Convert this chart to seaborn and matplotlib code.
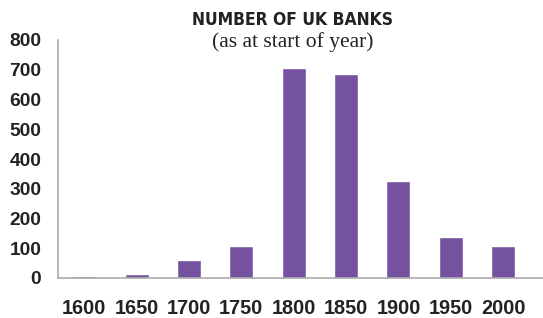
import pandas as pd
import matplotlib
matplotlib.use('Agg')
import matplotlib.pyplot as plt
import seaborn as sns

years = ['1600', '1650', '1700', '1750', '1800', '1850', '1900', '1950', '2000']
banks = [7, 14, 62, 109, 705, 685, 325, 137, 108]

df = pd.DataFrame({'year': years, 'banks': banks})

sns.set_style('white')
plt.rcParams['font.family'] = ['Liberation Sans', 'DejaVu Sans']

fig = plt.figure(figsize=(5.43, 3.18), dpi=100)
ax = fig.add_axes([58 / 543, 1 - 278 / 318, 1 - 58 / 543, 238 / 318])

sns.barplot(data=df, x='year', y='banks', color='#7452a0', saturation=1,
            width=0.46, ax=ax)

ax.set_xlim(-0.5, 8.76)
ax.set_ylim(0, 800)
ax.set_yticks(range(0, 801, 100))
ax.set_xlabel('')
ax.set_ylabel('')

for side in ['top', 'right']:
    ax.spines[side].set_visible(False)
for side in ['left', 'bottom']:
    ax.spines[side].set_color('#aaaaaa')
    ax.spines[side].set_linewidth(1.2)

ax.tick_params(axis='y', length=0, pad=12, labelsize=13.8, labelcolor='#222222')
ax.tick_params(axis='x', length=0, pad=15, labelsize=14.3, labelcolor='#222222')
for lab in ax.get_xticklabels() + ax.get_yticklabels():
    lab.set_fontweight('bold')

fig.text(293 / 543, 1 - 20 / 318, 'NUMBER OF UK BANKS', ha='center', va='center',
         fontsize=12.5, fontweight='bold', fontstretch='condensed', color='#222222',
         family=['DejaVu Sans'])
fig.text(293 / 543, 1 - 42 / 318, '(as at start of year)', ha='center', va='center',
         fontsize=15.5, color='#222222', family=['Liberation Serif', 'DejaVu Serif'])

fig.savefig('out.png', dpi=100)
